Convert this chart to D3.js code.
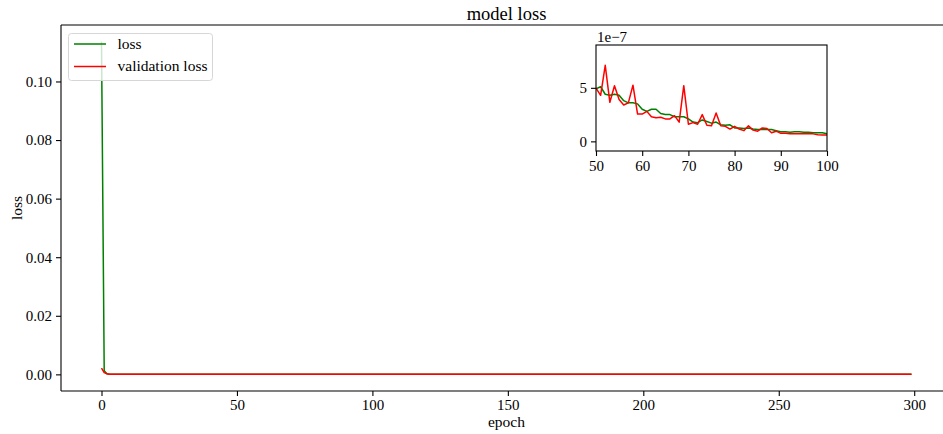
<!DOCTYPE html>
<html>
<head>
<meta charset="utf-8">
<script src="https://cdn.jsdelivr.net/npm/d3@7"></script>
<style>
	html, body { margin: 0; padding: 0; background: #fff; }
	svg { display: block; font-family: "Liberation Serif", "Times New Roman", serif; }
</style>
</head>
<body>
<script>
// epochs 0-3, raw loss values
const lossHead = [0.1136, 0.0012, 0.0002, 0.00004];
const valHead = [0.0021, 0.0006, 0.0002, 0.00005];

// epochs 4-49, in units of 1e-7
const lossMid = [120, 80, 60, 46, 38, 32, 28, 25, 22, 20, 18.5, 17, 16, 15, 14, 13.2, 12.5, 11.8, 11.2, 10.6,
	10.1, 9.6, 9.2, 8.8, 8.4, 8.0, 7.7, 7.4, 7.1, 6.8, 6.6, 6.4, 6.2, 6.0, 5.9, 5.8, 5.7, 5.6, 5.5, 5.4,
	5.3, 5.2, 5.2, 5.1, 5.0, 5.0];
const valMid = [150, 95, 70, 40, 52, 30, 33, 24, 21, 26, 17, 16, 19, 14, 13, 15, 11.5, 12, 10, 11,
	9.5, 9, 10.5, 8.2, 8, 7.6, 9, 7, 6.8, 7.5, 6.2, 6, 7, 5.8, 5.6, 6.3, 5.4, 5.5, 5.2, 6,
	5, 5.1, 5.6, 4.9, 5.2, 4.6];

// epochs 50-100 (inset), in units of 1e-7
const lossInset = [4.9, 5.1, 4.4, 4.3, 4.4, 4.3, 3.8, 3.6, 3.6, 3.5, 3.0, 2.8, 3.0, 3.0, 2.6, 2.5, 2.5, 2.3, 2.3, 2.3,
	2.1, 1.8, 1.75, 2.0, 1.85, 1.7, 1.8, 1.55, 1.5, 1.55, 1.25, 1.25, 1.2, 1.25, 1.15, 1.1, 1.1, 1.1, 1.1, 1.0,
	0.9, 0.9, 0.85, 0.9, 0.9, 0.85, 0.85, 0.8, 0.8, 0.8, 0.7];
const valInset = [4.97, 4.3, 7.1, 3.65, 5.2, 3.9, 3.4, 3.6, 5.25, 2.55, 2.55, 2.8, 2.3, 2.2, 2.25, 2.1, 2.1, 2.4, 1.8, 5.2,
	1.6, 1.75, 1.6, 2.5, 1.5, 1.45, 2.65, 1.45, 1.4, 1.15, 1.4, 1.15, 1.0, 1.45, 1.05, 0.95, 1.25, 1.2, 0.8, 0.95,
	0.75, 0.75, 0.72, 0.72, 0.7, 0.7, 0.72, 0.7, 0.62, 0.6, 0.6];

// later epochs (flat at zero in the main plot), in units of 1e-7
const tailEpochs = [110, 120, 130, 140, 150, 160, 170, 180, 190, 200, 210, 220, 230, 240, 250, 260, 270, 280, 290, 299];
const lossTail = [0.6, 0.5, 0.45, 0.4, 0.36, 0.33, 0.3, 0.28, 0.26, 0.24, 0.22, 0.21, 0.2, 0.19, 0.18, 0.17, 0.16, 0.15, 0.15, 0.14];
const valTail = [0.55, 0.48, 0.42, 0.38, 0.35, 0.31, 0.29, 0.27, 0.25, 0.23, 0.22, 0.2, 0.19, 0.18, 0.17, 0.16, 0.16, 0.15, 0.14, 0.14];

const mainXTicks = [0, 50, 100, 150, 200, 250, 300];
const mainYTicks = [0, 0.02, 0.04, 0.06, 0.08, 0.10];
const insetXTicks = [50, 60, 70, 80, 90, 100];
const insetYTicks = [0, 5];

const series = [
	{name: "loss", color: "green", head: lossHead, mid: lossMid, inset: lossInset, tail: lossTail},
	{name: "validation loss", color: "red", head: valHead, mid: valMid, inset: valInset, tail: valTail}
];

function buildPoints (s) {
	const pts = [];
	s.head.forEach((v, i) => pts.push({epoch: i, value: v}));
	s.mid.forEach((v, i) => pts.push({epoch: 4 + i, value: v * 1e-7}));
	s.inset.forEach((v, i) => pts.push({epoch: 50 + i, value: v * 1e-7}));
	s.tail.forEach((v, i) => pts.push({epoch: tailEpochs[i], value: v * 1e-7}));
	return pts;
}
series.forEach(s => s.points = buildPoints(s));

const width = 943, height = 434;
const fontColor = "#000";

const svg = d3.select("body").append("svg")
	.attr("width", width)
	.attr("height", height);

// ---- main axes ----
const m = {left: 61, top: 25, bottom: 391, right: 952};

const x = d3.scaleLinear()
	.domain([-14.95, 313.95])
	.range([m.left, m.right]);

const yMax = d3.max(series, s => d3.max(s.points, d => d.value));
const yPad = yMax * 0.05;
const y = d3.scaleLinear()
	.domain([-yPad, yMax + yPad])
	.range([m.bottom, m.top]);

svg.append("defs").append("clipPath")
		.attr("id", "mainclip")
	.append("rect")
		.attr("x", m.left)
		.attr("y", m.top)
		.attr("width", m.right - m.left)
		.attr("height", m.bottom - m.top);

const line = d3.line()
	.x(d => x(d.epoch))
	.y(d => y(d.value));

svg.append("g")
		.attr("clip-path", "url(#mainclip)")
		.attr("fill", "none")
		.attr("stroke-width", 1.5)
		.attr("stroke-linejoin", "round")
	.selectAll("path")
	.data(series)
	.join("path")
		.attr("stroke", d => d.color)
		.attr("d", d => line(d.points));

const xAxis = g => g
	.attr("transform", `translate(0,${m.bottom})`)
	.call(d3.axisBottom(x).tickValues(mainXTicks).tickFormat(d3.format("d")).tickSize(5).tickPadding(3.5).tickSizeOuter(0))
	.call(g => g.select(".domain").remove());

const yAxis = g => g
	.attr("transform", `translate(${m.left},0)`)
	.call(d3.axisLeft(y).tickValues(mainYTicks).tickFormat(d3.format(".2f")).tickSize(5).tickPadding(4).tickSizeOuter(0))
	.call(g => g.select(".domain").remove());

svg.append("g").call(xAxis);
svg.append("g").call(yAxis);

svg.selectAll(".tick text")
	.attr("font-family", "Liberation Serif")
	.attr("font-size", 15)
	.attr("fill", fontColor);
svg.selectAll(".tick line")
	.attr("stroke", fontColor)
	.attr("stroke-width", 1.1);

// spines
const spines = svg.append("g")
		.attr("stroke", "#000")
		.attr("stroke-width", 1.1)
		.attr("fill", "none");
spines.append("line").attr("x1", m.left).attr("x2", m.left).attr("y1", m.top).attr("y2", m.bottom);
spines.append("line").attr("x1", m.left).attr("x2", m.right).attr("y1", m.bottom).attr("y2", m.bottom);
spines.append("line").attr("x1", m.left).attr("x2", m.right).attr("y1", m.top).attr("y2", m.top);

// title and labels
svg.append("text")
	.attr("x", (m.left + m.right) / 2)
	.attr("y", 20)
	.attr("text-anchor", "middle")
	.attr("font-size", 18.5)
	.text("model loss");

svg.append("text")
	.attr("x", (m.left + m.right) / 2)
	.attr("y", 427)
	.attr("text-anchor", "middle")
	.attr("font-size", 15.5)
	.text("epoch");

svg.append("text")
	.attr("transform", `translate(22,${(m.top + m.bottom) / 2}) rotate(-90)`)
	.attr("text-anchor", "middle")
	.attr("font-size", 15.5)
	.text("loss");

// legend
const legend = svg.append("g");
legend.append("rect")
	.attr("x", 68.5)
	.attr("y", 33.5)
	.attr("width", 144)
	.attr("height", 47)
	.attr("rx", 3)
	.attr("fill", "white")
	.attr("fill-opacity", 0.8)
	.attr("stroke", "#d6d6d6")
	.attr("stroke-width", 1);

const item = legend.selectAll("g")
	.data(series)
	.join("g")
		.attr("transform", (d, i) => `translate(0,${44 + i * 22.5})`);

item.append("line")
	.attr("x1", 74)
	.attr("x2", 106)
	.attr("stroke", d => d.color)
	.attr("stroke-width", 1.5);

item.append("text")
	.attr("x", 117.5)
	.attr("dy", "0.32em")
	.attr("font-size", 15.5)
	.text(d => d.name);

// ---- inset ----
const n = {left: 596, right: 827, top: 45, bottom: 151};

const xi = d3.scaleLinear()
	.domain([50, 100])
	.range([n.left, n.right]);

const yi = d3.scaleLinear()
	.domain([-0.9, 9.0])
	.range([n.bottom, n.top]);

const inset = svg.append("g");

inset.append("rect")
	.attr("x", n.left)
	.attr("y", n.top)
	.attr("width", n.right - n.left)
	.attr("height", n.bottom - n.top)
	.attr("fill", "white");

svg.select("defs").append("clipPath")
		.attr("id", "insetclip")
	.append("rect")
		.attr("x", n.left)
		.attr("y", n.top)
		.attr("width", n.right - n.left)
		.attr("height", n.bottom - n.top);

const lineInset = d3.line()
	.x(d => xi(d.epoch))
	.y(d => yi(d.value * 1e7));

inset.append("g")
		.attr("clip-path", "url(#insetclip)")
		.attr("fill", "none")
		.attr("stroke-width", 1.5)
		.attr("stroke-linejoin", "round")
	.selectAll("path")
	.data(series)
	.join("path")
		.attr("stroke", d => d.color)
		.attr("d", d => lineInset(d.points.filter(p => p.epoch >= 49 && p.epoch <= 101)));

inset.append("g")
	.attr("transform", `translate(0,${n.bottom})`)
	.call(d3.axisBottom(xi).tickValues(insetXTicks).tickFormat(d3.format("d")).tickSize(5).tickPadding(4).tickSizeOuter(0))
	.call(g => g.select(".domain").remove());

inset.append("g")
	.attr("transform", `translate(${n.left},0)`)
	.call(d3.axisLeft(yi).tickValues(insetYTicks).tickFormat(d3.format("d")).tickSize(5).tickPadding(4).tickSizeOuter(0))
	.call(g => g.select(".domain").remove());

inset.selectAll(".tick text")
	.attr("font-family", "Liberation Serif")
	.attr("font-size", 15)
	.attr("fill", fontColor);
inset.selectAll(".tick line")
	.attr("stroke", fontColor)
	.attr("stroke-width", 1.1);

inset.append("rect")
	.attr("x", n.left)
	.attr("y", n.top)
	.attr("width", n.right - n.left)
	.attr("height", n.bottom - n.top)
	.attr("fill", "none")
	.attr("stroke", "#000")
	.attr("stroke-width", 1.1);

inset.append("text")
	.attr("x", n.left + 1)
	.attr("y", n.top - 3)
	.attr("font-size", 15)
	.text("1e\u22127");
</script>
</body>
</html>
